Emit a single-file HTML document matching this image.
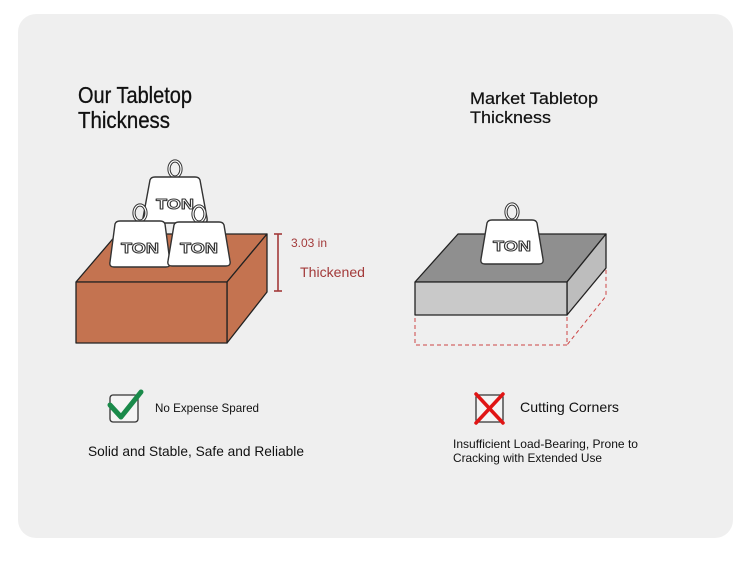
<!DOCTYPE html>
<html><head><meta charset="utf-8"><style>
html,body{margin:0;padding:0;background:#fff;width:750px;height:570px;overflow:hidden}
svg{display:block}
text{font-family:"Liberation Sans",sans-serif}
</style></head><body>
<svg width="750" height="570" viewBox="0 0 750 570" xmlns="http://www.w3.org/2000/svg">
<rect x="18" y="14" width="715" height="524" rx="18" fill="#efefef"/>

<text x="78" y="103" font-size="23" fill="#111" stroke="#111" stroke-width="0.3" textLength="114" lengthAdjust="spacingAndGlyphs">Our Tabletop</text>
<text x="78" y="128" font-size="23" fill="#111" stroke="#111" stroke-width="0.3" textLength="92" lengthAdjust="spacingAndGlyphs">Thickness</text>
<text x="470" y="104" font-size="17" fill="#111" stroke="#111" stroke-width="0.2" textLength="128" lengthAdjust="spacingAndGlyphs">Market Tabletop</text>
<text x="470" y="123" font-size="17" fill="#111" stroke="#111" stroke-width="0.2" textLength="81" lengthAdjust="spacingAndGlyphs">Thickness</text>

<!-- brown box -->
<g stroke="#222" stroke-width="1.3" stroke-linejoin="round">
<polygon points="76,282 117,234 267,234 227,282" fill="#c47350"/>
<polygon points="227,282 267,234 267,292 227,343" fill="#c47350"/>
<rect x="76" y="282" width="151" height="61" fill="#c47350"/>
</g>
<g stroke="#a33a3a" stroke-width="1.6">
<line x1="278" y1="234" x2="278" y2="291"/>
<line x1="274" y1="234" x2="282" y2="234"/>
<line x1="274" y1="291" x2="282" y2="291"/>
</g>
<text x="291" y="247" font-size="12" fill="#a33a3a" textLength="36" lengthAdjust="spacingAndGlyphs">3.03 in</text>
<text x="300" y="277" font-size="14" fill="#a33a3a" textLength="65" lengthAdjust="spacingAndGlyphs">Thickened</text>

<!-- weights -->
<g stroke="#333" stroke-width="1.4" fill="#fff" stroke-linejoin="round">
<g transform="translate(175,199)">
<ellipse cx="0" cy="-30" rx="6" ry="8" fill="none" stroke-width="3.2"/>
<ellipse cx="0" cy="-30" rx="6" ry="8" fill="none" stroke="#fff" stroke-width="1.2"/>
<path d="M-20,-22 Q-24,-22 -25,-19 L-32,19 Q-33,24 -28,24 L28,24 Q33,24 32,19 L25,-19 Q24,-22 20,-22 Z"/>
<text x="0" y="10" font-size="15" font-weight="bold" text-anchor="middle" fill="#fff" stroke="#333" stroke-width="1" textLength="38" lengthAdjust="spacingAndGlyphs">TON</text>
</g>
<g transform="translate(140,243)">
<ellipse cx="0" cy="-30" rx="6" ry="8" fill="none" stroke-width="3.2"/>
<ellipse cx="0" cy="-30" rx="6" ry="8" fill="none" stroke="#fff" stroke-width="1.2"/>
<path d="M-20,-22 Q-24,-22 -25,-19 L-30,19 Q-31,24 -26,24 L26,24 Q31,24 30,19 L25,-19 Q24,-22 20,-22 Z"/>
<text x="0" y="10" font-size="15" font-weight="bold" text-anchor="middle" fill="#fff" stroke="#333" stroke-width="1" textLength="38" lengthAdjust="spacingAndGlyphs">TON</text>
</g>
<g transform="translate(199,244)">
<ellipse cx="0" cy="-30" rx="6" ry="8" fill="none" stroke-width="3.2"/>
<ellipse cx="0" cy="-30" rx="6" ry="8" fill="none" stroke="#fff" stroke-width="1.2"/>
<path d="M-20,-22 Q-24,-22 -25,-19 L-31,17 Q-32,22 -27,22 L27,22 Q32,22 31,17 L25,-19 Q24,-22 20,-22 Z"/>
<text x="0" y="9" font-size="15" font-weight="bold" text-anchor="middle" fill="#fff" stroke="#333" stroke-width="1" textLength="38" lengthAdjust="spacingAndGlyphs">TON</text>
</g>
</g>

<!-- grey box -->
<g stroke="#c44" stroke-width="1" stroke-dasharray="4,3" fill="none">
<rect x="415" y="315" width="152" height="30"/>
<polyline points="567,315 606,268 606,296 567,345"/>
</g>
<g stroke="#222" stroke-width="1.3" stroke-linejoin="round">
<polygon points="415,282 458,234 606,234 567,282" fill="#8f8f8f"/>
<polygon points="567,282 606,234 606,268 567,315" fill="#bdbdbd"/>
<rect x="415" y="282" width="152" height="33" fill="#c9c9c9"/>
</g>
<g stroke="#333" stroke-width="1.4" fill="#fff" stroke-linejoin="round" transform="translate(512,242)">
<ellipse cx="0" cy="-30" rx="6" ry="8" fill="none" stroke-width="3.2"/>
<ellipse cx="0" cy="-30" rx="6" ry="8" fill="none" stroke="#fff" stroke-width="1.2"/>
<path d="M-20,-22 Q-24,-22 -25,-19 L-31,17 Q-32,22 -27,22 L27,22 Q32,22 31,17 L25,-19 Q24,-22 20,-22 Z"/>
<text x="0" y="9" font-size="15" font-weight="bold" text-anchor="middle" fill="#fff" stroke="#333" stroke-width="1" textLength="38" lengthAdjust="spacingAndGlyphs">TON</text>
</g>

<!-- check -->
<rect x="110" y="395" width="28" height="27" rx="3" fill="#f4f4f4" stroke="#333" stroke-width="1.3"/>
<polyline points="110,405 121,417 141,392" fill="none" stroke="#1a8a4a" stroke-width="5" stroke-linecap="round" stroke-linejoin="round"/>
<text x="155" y="412" font-size="12" fill="#111" textLength="104" lengthAdjust="spacingAndGlyphs">No Expense Spared</text>
<text x="88" y="456" font-size="14" fill="#111" textLength="216" lengthAdjust="spacingAndGlyphs">Solid and Stable, Safe and Reliable</text>

<!-- x -->
<rect x="476" y="395" width="27" height="27" rx="2" fill="#f4f4f4" stroke="#333" stroke-width="1.3"/>
<g stroke="#e01515" stroke-width="3.5" stroke-linecap="round">
<line x1="476" y1="394" x2="503" y2="423"/>
<line x1="503" y1="394" x2="476" y2="423"/>
</g>
<text x="520" y="412" font-size="14" fill="#111" textLength="99" lengthAdjust="spacingAndGlyphs">Cutting Corners</text>
<text x="453" y="448" font-size="12" fill="#111" textLength="185" lengthAdjust="spacingAndGlyphs">Insufficient Load-Bearing, Prone to</text>
<text x="453" y="462" font-size="12" fill="#111" textLength="149" lengthAdjust="spacingAndGlyphs">Cracking with Extended Use</text>
</svg>
</body></html>
